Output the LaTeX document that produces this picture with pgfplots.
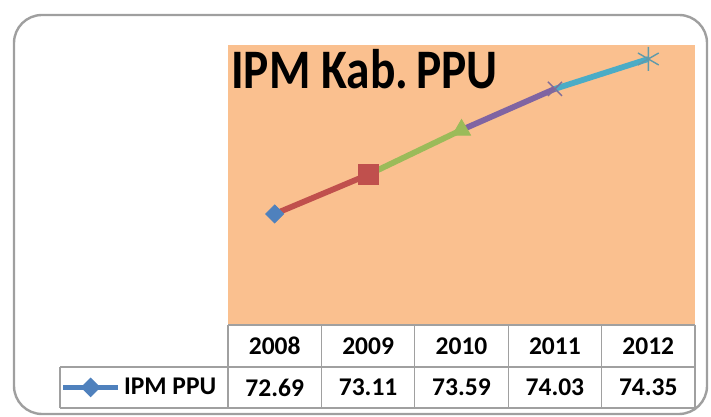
\documentclass[border=0pt]{standalone}
\usepackage{pgfplots}
\pgfplotsset{compat=1.18}
\usepackage{graphicx}
\usepackage{fontspec}
\setmainfont{Carlito}
\definecolor{peach}{RGB}{250,192,143}
\definecolor{exblue}{RGB}{79,129,189}
\definecolor{exred}{RGB}{192,80,77}
\definecolor{exgreen}{RGB}{155,187,89}
\definecolor{expurple}{RGB}{128,100,162}
\definecolor{excyan}{RGB}{75,172,198}
\definecolor{gridgray}{RGB}{160,160,160}
\begin{document}
\begin{tikzpicture}
\begin{scope}[x=0.5bp,y=0.5bp]
\path[use as bounding box] (0,0) rectangle (711,417);
\draw[gray!75, line width=1.2bp, rounded corners=14bp] (14,3) rectangle (707,402);
\end{scope}
\begin{axis}[
  at={(114bp,46bp)}, anchor=south west,
  scale only axis, width=233.5bp, height=140bp,
  xmin=-0.5, xmax=4.5, ymin=71.5, ymax=74.5,
  axis background/.style={fill=peach},
  axis line style={draw=none},
  ticks=none, clip=false,
  legend style={at={(-0.358,-0.223)}, anchor=west, draw=none, fill=none,
    font=\bfseries\fontsize{12.8}{15}\selectfont, inner sep=0pt},
  legend image code/.code={\draw[mark repeat=2,mark phase=2,#1] plot coordinates {(0cm,0cm) (0.48cm,0cm) (0.96cm,0cm)};},
]
\addlegendimage{color=exblue, line width=2.2bp, mark=square*, mark size=2.4bp, mark options={rotate=45, fill=exblue}}
\addlegendentry{IPM PPU}
\addplot[color=exred, line width=2.9bp, forget plot] coordinates {(0,72.69) (1,73.11)};
\addplot[color=exgreen, line width=2.9bp, forget plot] coordinates {(1,73.11) (2,73.59)};
\addplot[color=expurple, line width=2.9bp, forget plot] coordinates {(2,73.59) (3,74.03)};
\addplot[color=excyan, line width=2.9bp, forget plot] coordinates {(3,74.03) (4,74.35)};
\addplot[only marks, mark=square*, mark size=3.2bp, mark options={rotate=45, fill=exblue, draw=exblue}, forget plot] coordinates {(0,72.69)};
\addplot[only marks, mark=square*, mark size=5bp, mark options={fill=exred, draw=exred}, forget plot] coordinates {(1,73.11)};
\addplot[only marks, mark=triangle*, mark size=5.2bp, mark options={fill=exgreen, draw=exgreen}, forget plot] coordinates {(2,73.59)};
\addplot[only marks, mark=x, mark size=5bp, mark options={draw=expurple!70!gray, line width=0.7bp}, forget plot] coordinates {(3,74.03)};
\addplot[only marks, mark=asterisk, mark size=6bp, mark options={draw=excyan!60!gray, line width=0.7bp}, forget plot] coordinates {(4,74.35)};
\node[anchor=north west, inner sep=0pt, font=\bfseries\fontsize{28}{30}\selectfont] at (rel axis cs:0.006,0.985) {\scalebox{0.85}[1]{IPM Kab.\,PPU}};
\end{axis}
\begin{scope}[x=0.5bp,y=0.5bp]
\draw[gridgray, line width=0.6bp] (228,92) -- (695,92);
\draw[gridgray, line width=0.6bp] (60,50) -- (695,50);
\draw[gridgray, line width=0.6bp] (60,9) -- (695,9);
\draw[gridgray, line width=0.6bp] (60,9) -- (60,50);
\foreach \xx in {228,321.4,414.8,508.2,601.6,695} {\draw[gridgray, line width=0.6bp] (\xx,9) -- (\xx,92);}
\foreach \lab [count=\i from 0] in {2008,2009,2010,2011,2012} {
  \node[font=\bfseries\fontsize{12.8}{15}\selectfont] at (274.7+93.4*\i,71) {\lab};}
\foreach \lab [count=\i from 0] in {72.69,73.11,73.59,74.03,74.35} {
  \node[font=\bfseries\fontsize{12.8}{15}\selectfont] at (274.7+93.4*\i,29.5) {\lab};}
\end{scope}
\end{tikzpicture}
\end{document}
